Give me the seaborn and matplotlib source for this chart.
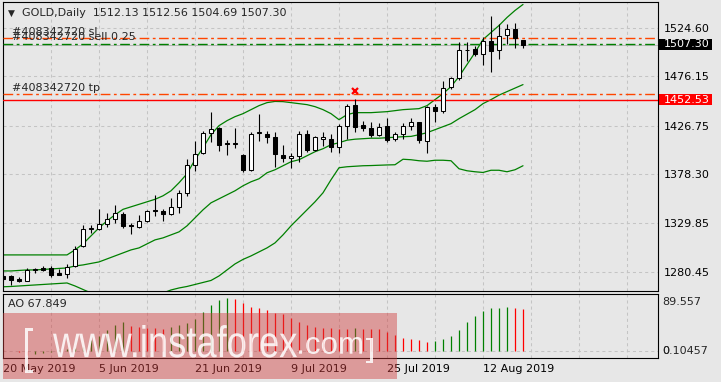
import numpy as np
import matplotlib
matplotlib.use('Agg')
import matplotlib.pyplot as plt
from matplotlib.patches import Rectangle, PathPatch
from matplotlib.textpath import TextPath
from matplotlib.font_manager import FontProperties
from matplotlib.transforms import Affine2D
import seaborn as sns

W, H = 721, 382

# daily OHLC, GOLD, 20 May 2019 .. 19 Aug 2019
opens = [1277, 1277, 1274, 1272, 1283, 1285, 1285, 1280, 1279, 1287,
         1307, 1324, 1324, 1329, 1334, 1339, 1328, 1326, 1332, 1343,
         1342, 1339, 1346, 1360, 1388, 1400, 1419, 1424, 1410, 1409,
         1398, 1383, 1419, 1418, 1415, 1398, 1395, 1397, 1418, 1403,
         1414, 1414, 1406, 1426, 1447, 1427, 1424, 1417, 1426, 1414,
         1418, 1426, 1430, 1412, 1445, 1441, 1465, 1474, 1502, 1503,
         1498, 1511, 1502, 1517, 1523, 1512.13]
highs = [1279, 1278, 1276, 1285, 1285, 1287, 1287, 1284, 1289, 1307,
         1328, 1328, 1344, 1340, 1348, 1341, 1330, 1338, 1343, 1358,
         1344, 1355, 1363, 1394, 1412, 1421, 1440, 1425, 1413, 1424,
         1399, 1420, 1438, 1421, 1420, 1408, 1400, 1421, 1422, 1416,
         1420, 1418, 1428, 1448, 1453, 1431, 1430, 1429, 1434, 1420,
         1429, 1434, 1430, 1446, 1448, 1471, 1475, 1510, 1510, 1506,
         1515, 1536, 1528, 1528, 1529, 1512.56]
lows = [1272, 1268, 1271, 1272, 1280, 1282, 1276, 1278, 1275, 1286,
        1306, 1320, 1323, 1326, 1330, 1325, 1319, 1325, 1331, 1337,
        1332, 1338, 1340, 1357, 1382, 1399, 1411, 1402, 1398, 1405,
        1381, 1382, 1412, 1410, 1386, 1391, 1385, 1391, 1401, 1402,
        1407, 1401, 1400, 1414, 1420, 1421, 1415, 1416, 1411, 1412,
        1414, 1422, 1410, 1400, 1430, 1439, 1463, 1472, 1491, 1496,
        1487, 1480, 1493, 1508, 1504, 1504.69]
closes = [1274, 1273, 1272, 1283, 1284, 1283, 1278, 1278, 1286, 1304,
          1324, 1325, 1329, 1334, 1340, 1327, 1327, 1332, 1342, 1342,
          1339, 1346, 1360, 1388, 1399, 1419, 1423, 1408, 1409, 1410,
          1383, 1418, 1420, 1415, 1399, 1395, 1397, 1418, 1403, 1415,
          1415, 1406, 1426, 1446, 1425, 1424, 1417, 1425, 1413, 1418,
          1426, 1430, 1413, 1445, 1441, 1464, 1474, 1502, 1502, 1498,
          1511, 1501, 1516, 1523, 1514, 1507.30]

bb_upper = [1297.8, 1297.8, 1297.8, 1297.8, 1297.8, 1297.8, 1297.8, 1297.8, 1297.8, 1302.8,
            1308.8, 1316.8, 1324.8, 1331.8, 1337.8, 1343.3, 1345.8, 1348.3, 1350.8, 1353.3,
            1356.8, 1361.8, 1369.8, 1378.8, 1392.8, 1404.8, 1417.8, 1426.8, 1431.8, 1435.8,
            1438.8, 1442.8, 1446.8, 1449.8, 1451.0, 1450.8, 1449.8, 1448.8, 1447.8, 1445.8,
            1442.8, 1438.8, 1432.8, 1437.8, 1439.8, 1439.8, 1439.8, 1440.3, 1440.8, 1441.8,
            1442.8, 1443.3, 1443.8, 1446.8, 1452.8, 1458.8, 1465.8, 1475.8, 1487.8, 1499.8,
            1512.8, 1519.8, 1526.8, 1534.8, 1541.8, 1547.8]
bb_middle = [1281.8, 1281.8, 1282.3, 1282.8, 1282.8, 1283.3, 1283.8, 1284.3, 1284.8, 1286.8,
             1287.8, 1289.3, 1290.8, 1293.8, 1296.8, 1299.8, 1302.8, 1304.8, 1308.8, 1312.8,
             1314.8, 1317.8, 1320.8, 1326.8, 1334.8, 1342.8, 1349.8, 1353.8, 1357.8, 1361.8,
             1366.8, 1370.8, 1373.8, 1379.8, 1382.8, 1386.8, 1390.8, 1392.8, 1396.8, 1400.8,
             1403.8, 1407.8, 1409.8, 1412.3, 1413.3, 1413.8, 1414.3, 1414.3, 1414.8, 1415.3,
             1415.8, 1416.1, 1417.8, 1419.8, 1422.8, 1425.8, 1428.8, 1433.8, 1438.3, 1442.8,
             1448.8, 1452.8, 1457.3, 1460.8, 1464.3, 1467.8]
bb_lower = [1266.0, 1266.3, 1266.8, 1267.3, 1267.8, 1268.3, 1268.8, 1269.3, 1269.8, 1266.8,
            1263.3, 1259.8, 1256.8, 1254.8, 1252.8, 1251.8, 1251.8, 1252.8, 1254.8, 1256.8,
            1259.8, 1262.8, 1264.8, 1266.3, 1268.3, 1270.3, 1272.3, 1276.8, 1282.8, 1288.8,
            1293.3, 1296.8, 1300.8, 1304.8, 1309.8, 1317.8, 1326.8, 1334.8, 1342.8, 1350.8,
            1359.8, 1372.8, 1384.8, 1385.8, 1386.3, 1386.8, 1387.0, 1387.3, 1387.6, 1387.8,
            1393.3, 1392.8, 1391.8, 1391.3, 1392.3, 1392.3, 1391.8, 1383.8, 1381.8, 1380.8,
            1380.1, 1382.3, 1382.3, 1380.8, 1382.8, 1386.8]

ao_values = [0.4, 0.2, -2.5, -6.5, -5.4, -3.8, -1.6, 0.5, 2.0, 4.0,
             6.5, 17.3, 24.6, 33.7, 42.0, 47.4, 41.0, 39.2, 37.0, 36.5,
             36.0, 39.2, 42.0, 44.7, 51.0, 63.8, 74.8, 82.0, 86.6, 84.8,
             78.4, 72.0, 69.3, 65.7, 62.0, 60.2, 52.9, 46.5, 42.0, 38.3,
             36.5, 36.3, 35.6, 35.4, 36.2, 35.5, 35.2, 34.8, 30.5, 26.0,
             20.5, 19.2, 17.8, 14.0, 15.8, 19.2, 24.2, 33.9, 46.5, 57.0,
             64.8, 68.9, 69.3, 70.5, 68.9, 67.85]

date_pos = [0, 12, 24, 36, 48, 60]
date_labels = ['20 May 2019', '5 Jun 2019', '21 Jun 2019', '9 Jul 2019', '25 Jul 2019', '12 Aug 2019']
price_ticks = [1280.45, 1329.85, 1378.30, 1426.75, 1476.15, 1524.60]

sl_price = 1514.0
open_price = 1508.0
tp_price = 1458.1
hline_price = 1452.53
bid_price = 1507.30
mark_bar, mark_price = 44, 1461.4

BG = '#e7e7e7'
GRID = '#c4c4c4'
GREEN = '#008000'
ORANGE = '#ff4500'

sns.set_style('white', {'axes.facecolor': BG, 'figure.facecolor': BG})
plt.rcParams['font.family'] = ['DejaVu Sans']
plt.rcParams['lines.scale_dashes'] = False


def fx(x):
    return x / W


def fy(y):
    return 1 - y / H


fig = plt.figure(figsize=(W / 100, H / 100), dpi=100, facecolor=BG)
ax = fig.add_axes([fx(2.5), fy(290.5), 655 / W, 288.5 / H])
ax_ao = fig.add_axes([fx(2.5), fy(358), 655 / W, 64.5 / H])

x = np.arange(len(opens))
o = np.array(opens)
c = np.array(closes)

# grid
for k in range(6, 82, 6):
    ax.axvline(k, color=GRID, lw=0.75, ls=(0, (2.2, 2.2)), zorder=0)
    ax_ao.axvline(k, color=GRID, lw=0.75, ls=(0, (2.2, 2.2)), zorder=0)
for p in price_ticks:
    ax.axhline(p, color=GRID, lw=0.75, ls=(0, (2.2, 2.2)), zorder=0)

# bollinger bands
for band in (bb_upper, bb_middle, bb_lower):
    sns.lineplot(x=x, y=band, ax=ax, color=GREEN, lw=0.9, zorder=2)

# order / level lines
dashdot = (0, (7, 2.5, 2, 2.5))
ax.axhline(bid_price, color='#b8b8b8', lw=0.75, zorder=1)
ax.axhline(sl_price, color=ORANGE, lw=1.0, ls=dashdot, zorder=3)
ax.axhline(open_price, color=GREEN, lw=1.0, ls=dashdot, zorder=3)
ax.axhline(tp_price, color=ORANGE, lw=1.0, ls=dashdot, zorder=3)
ax.axhline(hline_price, color='#ff0000', lw=1.0, zorder=3)

# candles
ax.vlines(x, lows, highs, color='black', lw=0.8, zorder=4)
bottoms = np.minimum(o, c)
heights = np.maximum(np.abs(c - o), 0.25)
body_colors = ['white' if cc >= oo else 'black' for oo, cc in zip(o, c)]
ax.bar(x, heights, bottom=bottoms, width=0.5, color=body_colors,
       edgecolor='black', linewidth=0.75, zorder=5)

ax.plot([mark_bar], [mark_price], marker='x', color='#ff0000', ms=4.5, mew=1.6, zorder=6)

ax.set_xlim(-0.0625, 81.8125)
ax.set_ylim(1262.28, 1550.25)
ax.set_xticks([])
ax.yaxis.tick_right()
ax.set_yticks(price_ticks)
ax.set_yticklabels([f'{p:.2f}' for p in price_ticks])
ax.tick_params(axis='y', length=0, pad=4.6, labelsize=8, colors='black')
ax.set_xlabel('')
ax.set_ylabel('')

# AO histogram
ao = np.array(ao_values)
ao_colors = ['#ff0000'] + ['#008000' if ao[i] > ao[i - 1] else '#ff0000' for i in range(1, len(ao))]
ax_ao.axhline(0, color=GRID, lw=0.75, ls=(0, (2.2, 2.2)), zorder=0)
ax_ao.vlines(x, 0, ao, colors=ao_colors, lw=0.9, zorder=2)
ax_ao.set_xlim(-0.0625, 81.8125)
ax_ao.set_ylim(-11.9, 93.2)
ax_ao.set_yticks([])
ax_ao.set_xticks(date_pos)
ax_ao.set_xticklabels(date_labels)
for lab in ax_ao.get_xticklabels():
    lab.set_ha('left')
ax_ao.tick_params(axis='x', length=2.5, width=0.8, pad=2, labelsize=8, direction='out', colors='black')

for a in (ax, ax_ao):
    for s in a.spines.values():
        s.set_visible(True)
        s.set_color('black')
        s.set_linewidth(0.8)

# texts
fig.text(fx(7.5), fy(13), '\u25bc', fontsize=6.5, va='center', ha='left')
fig.text(fx(22), fy(13), 'GOLD,Daily  1512.13 1512.56 1504.69 1507.30', fontsize=8, va='center', ha='left')
fig.text(fx(12), fy(31.7), '#408342720 sl', fontsize=8, va='center', ha='left')
fig.text(fx(12), fy(36.7), '#408342720 sell 0.25', fontsize=8, va='center', ha='left')
fig.text(fx(12), fy(87.7), '#408342720 tp', fontsize=8, va='center', ha='left')
fig.text(fx(8), fy(304), 'AO 67.849', fontsize=8, va='center', ha='left')

fig.add_artist(Rectangle((fx(659), fy(49.5)), 53 / W, 11 / H, transform=fig.transFigure,
                         fc='black', ec='none', zorder=5))
fig.text(fx(663.5), fy(44), f'{bid_price:.2f}', fontsize=8, color='white', va='center', ha='left', zorder=6)
fig.add_artist(Rectangle((fx(659), fy(105.2)), 53 / W, 11 / H, transform=fig.transFigure,
                         fc='#ff0000', ec='none', zorder=5))
fig.text(fx(663.5), fy(99.7), f'{hline_price:.2f}', fontsize=8, color='white', va='center', ha='left', zorder=6)

fig.text(fx(662), fy(301.7), '89.557', fontsize=8, va='center', ha='left')
fig.text(fx(662), fy(350.7), '0.10457', fontsize=8, va='center', ha='left')
fig.text(fx(662), fy(350.7), '0', fontsize=8, va='center', ha='left')

# watermark
fig.add_artist(Rectangle((fx(3), fy(379)), 394 / W, 66 / H, transform=fig.transFigure,
                         fc='#d03c3c', ec='none', alpha=0.45, zorder=10))
wm_prop = FontProperties(family='Liberation Sans')


def fit_text(s, x0, x1, ytop, ybot):
    tp = TextPath((0, 0), s, size=1, prop=wm_prop)
    ext = tp.get_extents()
    sx = (x1 - x0) / ext.width
    sy = (ybot - ytop) / ext.height
    tr = (Affine2D().translate(-ext.x0, -ext.y0).scale(sx / W, sy / H)
          .translate(fx(x0), fy(ybot)) + fig.transFigure)
    fig.add_artist(PathPatch(tp, transform=tr, fc='white', ec='none', alpha=0.85, zorder=11))


fit_text('[', 25, 33, 328, 373)
fit_text('www.instaforex', 53, 297, 325, 357.5)
fit_text('.com', 299, 362, 337, 354)
fit_text(']', 366, 373, 338, 363)

fig.savefig('out.png', dpi=100, facecolor=BG)
